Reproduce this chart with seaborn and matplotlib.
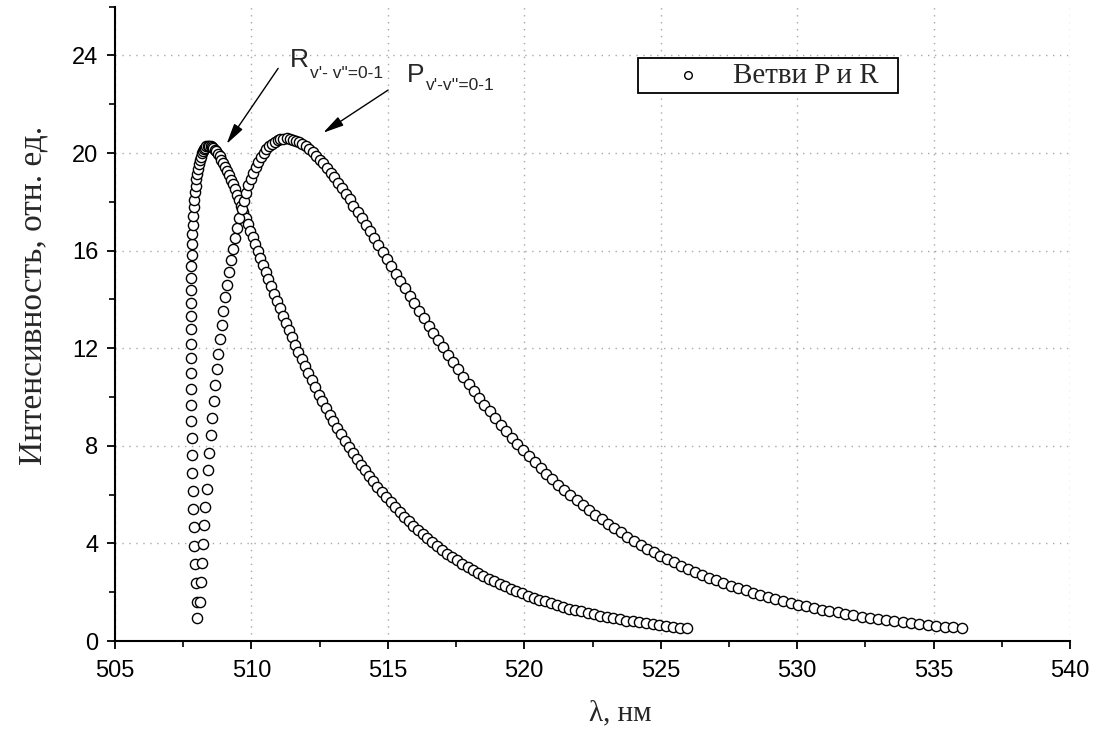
import pandas as pd
import matplotlib
matplotlib.use("Agg")
import matplotlib.pyplot as plt
import seaborn as sns
from matplotlib.ticker import MultipleLocator

# R branch (v'-v''=0-1): wavelength, nm / intensity, rel. units
r_wl = [
    508.02, 507.99, 507.96, 507.94, 507.91, 507.89, 507.87, 507.85, 507.84, 507.82,
    507.81, 507.80, 507.79, 507.78, 507.78, 507.77, 507.77, 507.77, 507.77, 507.78,
    507.78, 507.79, 507.80, 507.81, 507.82, 507.84, 507.85, 507.87, 507.89, 507.91,
    507.93, 507.96, 507.98, 508.01, 508.04, 508.08, 508.11, 508.15, 508.18, 508.22,
    508.26, 508.31, 508.35, 508.40, 508.45, 508.50, 508.55, 508.60, 508.66, 508.71,
    508.77, 508.83, 508.90, 508.96, 509.03, 509.09, 509.16, 509.24, 509.31, 509.38,
    509.46, 509.54, 509.62, 509.70, 509.79, 509.87, 509.96, 510.05, 510.14, 510.23,
    510.33, 510.42, 510.52, 510.62, 510.73, 510.83, 510.93, 511.04, 511.15, 511.26,
    511.38, 511.49, 511.61, 511.72, 511.84, 511.97, 512.09, 512.21, 512.34, 512.47,
    512.60, 512.73, 512.87, 513.00, 513.14, 513.28, 513.42, 513.57, 513.71, 513.86,
    514.01, 514.16, 514.31, 514.46, 514.62, 514.78, 514.94, 515.10, 515.26, 515.43,
    515.59, 515.76, 515.93, 516.10, 516.28, 516.45, 516.63, 516.81, 516.99, 517.17,
    517.36, 517.54, 517.73, 517.92, 518.11, 518.31, 518.50, 518.70, 518.90, 519.10,
    519.30, 519.50, 519.71, 519.92, 520.13, 520.34, 520.55, 520.77, 520.98, 521.20,
    521.42, 521.64, 521.87, 522.09, 522.32, 522.55, 522.78, 523.02, 523.25, 523.49,
    523.72, 523.97, 524.21, 524.45, 524.70, 524.94, 525.19, 525.44, 525.70, 525.95,
]
r_int = [
    0.95, 1.58, 2.36, 3.14, 3.91, 4.67, 5.42, 6.16, 6.89, 7.61,
    8.31, 9.00, 9.67, 10.33, 10.97, 11.59, 12.19, 12.77, 13.33, 13.87,
    14.39, 14.89, 15.37, 15.83, 16.26, 16.67, 17.06, 17.43, 17.77, 18.09,
    18.39, 18.66, 18.92, 19.15, 19.36, 19.55, 19.71, 19.85, 19.98, 20.08,
    20.16, 20.22, 20.27, 20.29, 20.30, 20.28, 20.25, 20.20, 20.14, 20.07,
    19.97, 19.86, 19.73, 19.60, 19.44, 19.28, 19.10, 18.91, 18.72, 18.51,
    18.29, 18.06, 17.83, 17.58, 17.33, 17.08, 16.81, 16.54, 16.27, 15.99,
    15.70, 15.41, 15.13, 14.83, 14.53, 14.24, 13.94, 13.64, 13.34, 13.04,
    12.74, 12.44, 12.14, 11.85, 11.55, 11.26, 10.97, 10.68, 10.39, 10.10,
    9.82, 9.54, 9.27, 9.00, 8.74, 8.47, 8.21, 7.97, 7.71, 7.47,
    7.23, 6.99, 6.76, 6.54, 6.31, 6.10, 5.89, 5.68, 5.48, 5.28,
    5.09, 4.91, 4.72, 4.55, 4.38, 4.21, 4.05, 3.89, 3.73, 3.58,
    3.44, 3.31, 3.17, 3.04, 2.91, 2.79, 2.67, 2.56, 2.45, 2.34,
    2.24, 2.14, 2.04, 1.95, 1.86, 1.78, 1.70, 1.62, 1.54, 1.47,
    1.40, 1.33, 1.27, 1.21, 1.15, 1.09, 1.04, 0.99, 0.94, 0.89,
    0.84, 0.80, 0.76, 0.72, 0.68, 0.65, 0.61, 0.58, 0.55, 0.52,
]

# P branch (v'-v''=0-1)
p_wl = [
    508.12, 508.15, 508.19, 508.23, 508.27, 508.31, 508.36, 508.41, 508.46,
    508.51, 508.56, 508.61, 508.67, 508.73, 508.78, 508.85, 508.91, 508.97, 509.04,
    509.11, 509.18, 509.25, 509.32, 509.40, 509.48, 509.56, 509.64, 509.72, 509.80,
    509.89, 509.98, 510.07, 510.16, 510.25, 510.35, 510.45, 510.54, 510.64, 510.75,
    510.85, 510.96, 511.06, 511.17, 511.29, 511.40, 511.51, 511.63, 511.75, 511.87,
    511.99, 512.12, 512.24, 512.37, 512.50, 512.63, 512.76, 512.90, 513.03, 513.17,
    513.31, 513.45, 513.60, 513.74, 513.89, 514.04, 514.19, 514.34, 514.50, 514.65,
    514.81, 514.97, 515.13, 515.29, 515.46, 515.63, 515.80, 515.97, 516.14, 516.31,
    516.49, 516.67, 516.85, 517.03, 517.21, 517.39, 517.58, 517.77, 517.96, 518.15,
    518.35, 518.54, 518.74, 518.94, 519.14, 519.34, 519.55, 519.75, 519.96, 520.17,
    520.38, 520.60, 520.81, 521.03, 521.25, 521.47, 521.69, 521.92, 522.14, 522.37,
    522.60, 522.83, 523.06, 523.30, 523.54, 523.77, 524.01, 524.26, 524.50, 524.75,
    524.99, 525.24, 525.50, 525.75, 526.00, 526.26, 526.52, 526.78, 527.04, 527.30,
    527.57, 527.84, 528.11, 528.38, 528.65, 528.92, 529.20, 529.48, 529.76, 530.04,
    530.32, 530.61, 530.90, 531.18, 531.48, 531.77, 532.06, 532.36, 532.66, 532.95,
    533.26, 533.56, 533.87, 534.17, 534.48, 534.79, 535.10, 535.42, 535.73, 536.05,
]
p_int = [
    1.60, 2.40, 3.19, 3.97, 4.74, 5.50, 6.25, 6.99, 7.72,
    8.43, 9.14, 9.82, 10.48, 11.13, 11.76, 12.37, 12.96, 13.53, 14.08,
    14.61, 15.11, 15.60, 16.07, 16.50, 16.92, 17.32, 17.69, 18.04, 18.36,
    18.67, 18.94, 19.20, 19.44, 19.65, 19.84, 20.01, 20.15, 20.28, 20.38,
    20.46, 20.52, 20.57, 20.59, 20.60, 20.58, 20.55, 20.50, 20.44, 20.37,
    20.27, 20.16, 20.03, 19.89, 19.73, 19.57, 19.39, 19.19, 19.00, 18.79,
    18.56, 18.33, 18.10, 17.84, 17.59, 17.34, 17.06, 16.79, 16.51, 16.23,
    15.94, 15.64, 15.36, 15.05, 14.75, 14.45, 14.15, 13.84, 13.54, 13.24,
    12.93, 12.63, 12.32, 12.03, 11.72, 11.43, 11.13, 10.84, 10.55, 10.25,
    9.97, 9.68, 9.41, 9.14, 8.87, 8.60, 8.33, 8.09, 7.83, 7.58,
    7.34, 7.09, 6.86, 6.64, 6.40, 6.19, 5.98, 5.77, 5.56, 5.36,
    5.17, 4.98, 4.79, 4.62, 4.45, 4.27, 4.11, 3.95, 3.79, 3.63,
    3.49, 3.36, 3.22, 3.09, 2.95, 2.83, 2.71, 2.60, 2.49, 2.38,
    2.27, 2.17, 2.07, 1.98, 1.89, 1.81, 1.73, 1.64, 1.56, 1.49,
    1.42, 1.35, 1.29, 1.23, 1.17, 1.11, 1.06, 1.00, 0.95, 0.90,
    0.85, 0.81, 0.77, 0.73, 0.69, 0.66, 0.62, 0.59, 0.56, 0.53,
]

series_label = "Ветви P и R"

# one table with both branches, plotted as a single series like the original
data = pd.DataFrame({"wl": r_wl + p_wl, "inten": r_int + p_int})

sns.set_style("white")
plt.rcParams["font.family"] = ["Liberation Sans", "DejaVu Sans"]
serif = ["Liberation Serif", "DejaVu Serif"]

fig = plt.figure(figsize=(11.01, 7.29), dpi=100)
ax = fig.add_axes([115 / 1101, 1 - 641 / 729, 955 / 1101, 634.4 / 729])

sns.scatterplot(data=data, x="wl", y="inten", ax=ax, marker="o", s=54,
                color="white", edgecolor="black", linewidth=1.0,
                label=series_label, zorder=3)

ax.set_xlim(505, 540)
ax.set_ylim(0, 26)
ax.xaxis.set_major_locator(MultipleLocator(5))
ax.xaxis.set_minor_locator(MultipleLocator(2.5))
ax.yaxis.set_major_locator(MultipleLocator(4))
ax.yaxis.set_minor_locator(MultipleLocator(2))
ax.set_yticks(range(0, 25, 4))

for side in ["top", "right"]:
    ax.spines[side].set_visible(False)
for side in ["left", "bottom"]:
    ax.spines[side].set_color("black")
    ax.spines[side].set_linewidth(1.5)

ax.tick_params(which="major", direction="out", length=6, width=1.3, colors="black",
               labelsize=17, bottom=True, left=True)
ax.tick_params(axis="x", which="major", pad=8)
ax.tick_params(axis="y", which="major", pad=6)
ax.tick_params(which="minor", direction="out", length=4.5, width=1.2, colors="black",
               bottom=True, left=True)
ax.grid(True, which="major", color="#a8a8a8", linestyle=(0, (1, 4)), linewidth=1)

ax.set_xlabel("λ, нм", fontsize=21, family=serif, va="center")
ax.set_ylabel("Интенсивность, отн. ед.", fontsize=24, family=serif, va="center")
ax.xaxis.set_label_coords(0.529, -0.114)
ax.yaxis.set_label_coords(-0.086, 0.545)

# branch annotations
arrow = dict(arrowstyle="-|>,head_length=0.9,head_width=0.22", color="black",
             lw=1.0, mutation_scale=14, shrinkA=0, shrinkB=0)
ax.annotate("", xy=(509.09, 20.37), xytext=(510.98, 23.47), arrowprops=arrow)
ax.annotate("", xy=(512.63, 20.83), xytext=(515.01, 22.58), arrowprops=arrow)
ax.text(511.41, 23.52, "R", fontsize=19, va="baseline")
ax.text(512.14, 23.07, "v'- v\"=0-1", fontsize=12.5, va="baseline")
ax.text(515.70, 22.91, "P", fontsize=19, va="baseline")
ax.text(516.39, 22.58, "v'-v''=0-1", fontsize=12.5, va="baseline")

leg = ax.legend(loc="lower left", bbox_to_anchor=(638 / 1101, 1 - 93 / 729, 260 / 1101, 39 / 729),
                bbox_transform=fig.transFigure, mode="expand", borderaxespad=0,
                prop={"family": serif, "size": 21}, frameon=True, fancybox=False,
                framealpha=1, edgecolor="black", borderpad=0.15, handlelength=3.1,
                handletextpad=0.0, markerscale=0.75)
leg.get_frame().set_linewidth(1.3)

fig.savefig("out.png", dpi=100)
